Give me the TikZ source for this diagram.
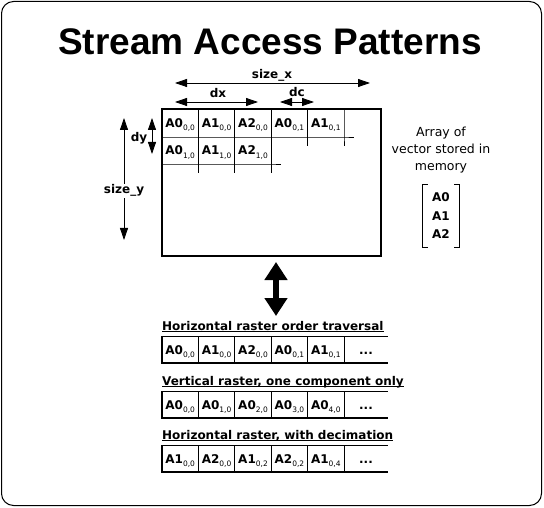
\documentclass[tikz,border=0pt]{standalone}
\usepackage{fontspec}
\setmainfont{DejaVu Sans}
\newfontfamily\titlefont{Liberation Sans}
\usepackage{tikz}
\usetikzlibrary{positioning,arrows.meta}
\tikzstyle{thinline} = [line width=0.8pt]
\tikzstyle{thickedge} = [line width=2.4pt]
\tikzstyle{cell} = [draw,thinline,minimum width=36.4pt,minimum height=27pt,inner sep=0pt,outer sep=0pt,text height=9pt,text depth=0pt,font=\fontsize{12}{14}\selectfont\bfseries]
\tikzstyle{gridcell} = [cell,draw=none]
\tikzstyle{rowlabel} = [anchor=base west,inner sep=0pt,text depth=1.6pt,font=\fontsize{12}{14}\selectfont\bfseries]
\tikzstyle{dimlabel} = [anchor=base,inner sep=1pt,font=\fontsize{12}{14}\selectfont\bfseries]
\tikzstyle{dimarrow} = [line width=0.8pt,{Triangle[length=12pt,width=8pt]}-{Triangle[length=12pt,width=8pt]}]
\tikzstyle{bigarrow} = [line width=6pt,{Triangle[length=18pt,width=22pt]}-{Triangle[length=18pt,width=22pt]}]
\newcommand{\cellsub}[1]{\raisebox{-3.5pt}{\fontsize{7.5}{8}\selectfont\mdseries #1}}

\begin{document}
\begin{tikzpicture}[x=1pt,y=-1pt]
    \useasboundingbox (0,0) rectangle (544,508);
    \draw[line width=1pt,rounded corners=12pt] (1.5,1.5) rectangle (541.5,505.5);
    \node[anchor=base,inner sep=0pt,font=\titlefont\bfseries\fontsize{37}{40}\selectfont](title) at (270,55){Stream Access Patterns};
    % 2D array in memory
    \node[gridcell,minimum height=28pt](g_11) at (180.2,123){A0\cellsub{0,0}};
    \node[gridcell,minimum height=28pt][right=0pt of g_11](g_12){A1\cellsub{0,0}};
    \node[gridcell,minimum height=28pt][right=0pt of g_12](g_13){A2\cellsub{0,0}};
    \node[gridcell,minimum height=28pt][right=0pt of g_13](g_14){A0\cellsub{0,1}};
    \node[gridcell,minimum height=28pt][right=0pt of g_14](g_15){A1\cellsub{0,1}};
    \node[gridcell][below=0pt of g_11](g_21){A0\cellsub{1,0}};
    \node[gridcell][below=0pt of g_12](g_22){A1\cellsub{1,0}};
    \node[gridcell][below=0pt of g_13](g_23){A2\cellsub{1,0}};
    \draw[thinline] (g_11.south west) -- (g_15.south east) -- ++(10,0);
    \draw[thinline] (g_21.south west) -- (g_23.south east) -- ++(10,0);
    \draw[thinline] (g_11.north east) -- (g_21.south east) -- ++(0,9);
    \draw[thinline] (g_12.north east) -- (g_22.south east) -- ++(0,9);
    \draw[thinline] (g_13.north east) -- (g_23.south east) -- ++(0,9);
    \draw[thinline] (g_14.north east) -- (g_14.south east) -- ++(0,9);
    \draw[thinline] (g_15.north east) -- (g_15.south east) -- ++(0,9);
    \node[draw,line width=2pt,minimum width=219pt,minimum height=147pt,inner sep=0pt](frame) at (271.5,182.5){};
    % dimensions
    \coordinate (sx_l) at (175,83);
    \coordinate (sx_r) at (370,83);
    \coordinate (dx_l) at (175,102);
    \coordinate (dx_r) at (258,102);
    \coordinate (dc_l) at (280,102);
    \coordinate (dc_r) at (314,102);
    \coordinate (dy_t) at (152,118);
    \coordinate (dy_b) at (152,154);
    \coordinate (sy_t) at (124,118);
    \coordinate (sy_b) at (124,240);
    \draw[dimarrow] (sx_l) -- (sx_r);
    \draw[dimarrow] (dx_l) -- (dx_r);
    \draw[dimarrow] (dc_l) -- (dc_r);
    \draw[dimarrow] (dy_t) -- (dy_b);
    \draw[dimarrow] (sy_t) -- (sy_b);
    \node[dimlabel](l_sx) at (272,79){size\_x};
    \node[dimlabel](l_dx) at (218,98){dx};
    \node[dimlabel](l_dc) at (297,97){dc};
    \node[dimlabel](l_dy) at (139,142){dy};
    \node[dimlabel,fill=white](l_sy) at (124,194){size\_y};
    % vector in memory
    \node[align=center,font=\fontsize{12.5}{17}\selectfont](memtext) at (441,150){Array of\\vector stored in\\memory};
    \node[align=center,inner sep=0pt,minimum width=36pt,minimum height=62pt,font=\fontsize{12}{18.5}\selectfont\bfseries](vec) at (441,216){A0\\A1\\A2};
    \draw[thinline] (vec.north west) ++(5,0) -- (vec.north west) -- (vec.south west) -- ++(5,0);
    \draw[thinline] (vec.north east) ++(-5,0) -- (vec.north east) -- (vec.south east) -- ++(-5,0);
    \coordinate (p_top) at (276,262);
    \coordinate (p_bot) at (276,316);
    \draw[bigarrow] (p_top) -- (p_bot);
    % horizontal raster
    \node[rowlabel](l_h) at (162,330){Horizontal raster order traversal};
    \draw[thinline] (l_h.south west) -- (l_h.south east);
    \node[cell](h_1) at (180.2,349.5){A0\cellsub{0,0}};
    \node[cell][right=0pt of h_1](h_2){A1\cellsub{0,0}};
    \node[cell][right=0pt of h_2](h_3){A2\cellsub{0,0}};
    \node[cell][right=0pt of h_3](h_4){A0\cellsub{0,1}};
    \node[cell][right=0pt of h_4](h_5){A1\cellsub{0,1}};
    \node[cell,draw=none,minimum width=44pt][right=0pt of h_5](h_d){...};
    \draw[thinline] (h_5.north east) -- (h_d.north east);
    \draw[thickedge] (h_1.north west) -- (h_1.south west) -- (h_d.south east);
    % vertical raster
    \node[rowlabel](l_v) at (162,385){Vertical raster, one component only};
    \draw[thinline] (l_v.south west) -- (l_v.south east);
    \node[cell](v_1) at (180.2,404.5){A0\cellsub{0,0}};
    \node[cell][right=0pt of v_1](v_2){A0\cellsub{1,0}};
    \node[cell][right=0pt of v_2](v_3){A0\cellsub{2,0}};
    \node[cell][right=0pt of v_3](v_4){A0\cellsub{3,0}};
    \node[cell][right=0pt of v_4](v_5){A0\cellsub{4,0}};
    \node[cell,draw=none,minimum width=44pt][right=0pt of v_5](v_d){...};
    \draw[thinline] (v_5.north east) -- (v_d.north east);
    \draw[thickedge] (v_1.north west) -- (v_1.south west) -- (v_d.south east);
    % decimation
    \node[rowlabel](l_d) at (162,439){Horizontal raster, with decimation};
    \draw[thinline] (l_d.south west) -- (l_d.south east);
    \node[cell](d_1) at (180.2,458.5){A1\cellsub{0,0}};
    \node[cell][right=0pt of d_1](d_2){A2\cellsub{0,0}};
    \node[cell][right=0pt of d_2](d_3){A1\cellsub{0,2}};
    \node[cell][right=0pt of d_3](d_4){A2\cellsub{0,2}};
    \node[cell][right=0pt of d_4](d_5){A1\cellsub{0,4}};
    \node[cell,draw=none,minimum width=44pt][right=0pt of d_5](d_d){...};
    \draw[thinline] (d_5.north east) -- (d_d.north east);
    \draw[thickedge] (d_1.north west) -- (d_1.south west) -- (d_d.south east);
\end{tikzpicture}
\end{document}
